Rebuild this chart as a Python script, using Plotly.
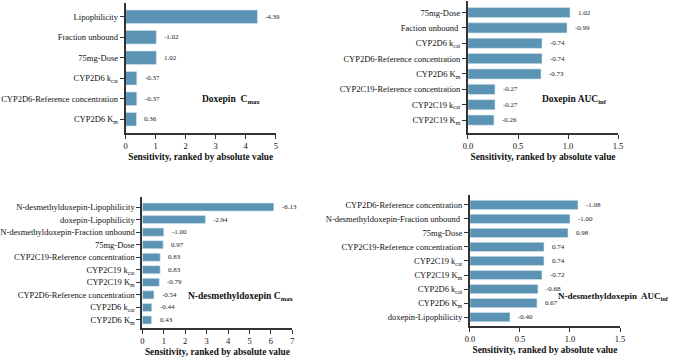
import plotly.graph_objects as go

# ---------------- data ----------------
p1_labels = ["Lipophilicity", "Fraction unbound", "75mg-Dose", "CYP2D6 k<sub>cat</sub>",
             "CYP2D6-Reference concentration", "CYP2D6 K<sub>m</sub>"]
p1_values = [-4.39, -1.02, 1.02, -0.37, -0.37, 0.36]

p2_labels = ["75mg-Dose", "Faction unbound ", "CYP2D6 k<sub>cat</sub>", "CYP2D6-Reference concentration",
             "CYP2D6 K<sub>m</sub>", "CYP2C19-Reference concentration", "CYP2C19 k<sub>cat</sub>",
             "CYP2C19 K<sub>m</sub>"]
p2_values = [1.02, -0.99, -0.74, -0.74, -0.73, -0.27, -0.27, -0.26]

p3_labels = ["N-desmethyldoxepin-Lipophilicity", "doxepin-Lipophilicity",
             "N-desmethyldoxepin-Fraction unbound", "75mg-Dose", "CYP2C19-Reference concentration",
             "CYP2C19 k<sub>cat</sub>", "CYP2C19 K<sub>m</sub>", "CYP2D6-Reference concentration",
             "CYP2D6 k<sub>cat</sub>", "CYP2D6 K<sub>m</sub>"]
p3_values = [-6.13, -2.94, -1.00, 0.97, 0.83, 0.83, -0.79, -0.54, -0.44, 0.43]

p4_labels = ["CYP2D6-Reference concentration", "N-desmethyldoxepin-Fraction unbound ", "75mg-Dose",
             "CYP2C19-Reference concentration", "CYP2C19 k<sub>cat</sub>", "CYP2C19 K<sub>m</sub>",
             "CYP2D6 k<sub>cat</sub>", "CYP2D6 K<sub>m</sub>", "doxepin-Lipophilicity"]
p4_values = [-1.08, -1.00, 0.98, 0.74, 0.74, -0.72, -0.68, 0.67, -0.40]

titles = ["<b>Doxepin  C<sub>max</sub></b>", "<b>Doxepin AUC<sub>inf</sub></b>",
          "<b>N-desmethyldoxepin C<sub>max</sub></b>", "<b>N-desmethyldoxepin  AUC<sub>inf</sub></b>"]
x_ticks = [[0, 1, 2, 3, 4, 5], [0.0, 0.5, 1.0, 1.5], [0, 1, 2, 3, 4, 5, 6, 7], [0.0, 0.5, 1.0, 1.5]]
x_ticktext = [["0", "1", "2", "3", "4", "5"], ["0.0", "0.5", "1.0", "1.5"],
              ["0", "1", "2", "3", "4", "5", "6", "7"], ["0.0", "0.5", "1.0", "1.5"]]
axis_title = "<b>Sensitivity, ranked by absolute value</b>"

# ---------------- layout ----------------
W, H = 676, 359
FONT = "Liberation Serif"
BAR = "#5a93b3"
AX = "#333333"

panels = [
    dict(labels=p1_labels, values=p1_values, xd=(120, 273), yd=(3, 133), yr=(5.67, -0.67),
         xmax=5, width=0.66, title_xy=(227, 99), tanchor="center", tsize=9.5),
    dict(labels=p2_labels, values=p2_values, xd=(469, 622), yd=(1, 133), yr=(7.84, -0.75),
         xmax=1.5, width=0.66, title_xy=(578, 99), tanchor="center", tsize=9.5),
    dict(labels=p3_labels, values=p3_values, xd=(137, 290), yd=(197, 328), yr=(9.64, -0.8),
         xmax=7, width=0.64, title_xy=(237, 296), tanchor="center", tsize=9.5),
    dict(labels=p4_labels, values=p4_values, xd=(471, 624), yd=(195, 326), yr=(8.64, -0.71),
         xmax=1.5, width=0.66, title_xy=(676, 296), tanchor="right", tsize=9.0),
]

fig = go.Figure()
annotations = []
for i, p in enumerate(panels):
    n = "" if i == 0 else str(i + 1)
    xa, ya = "x" + n, "y" + n
    absvals = [abs(v) for v in p["values"]]
    fig.add_trace(go.Bar(
        x=absvals, y=p["labels"], orientation="h", xaxis=xa, yaxis=ya,
        marker=dict(color=BAR, line=dict(color="#d6e6ef", width=0.6)),
        width=p["width"], showlegend=False, hoverinfo="skip"))
    for lab, a, v in zip(p["labels"], absvals, p["values"]):
        annotations.append(dict(
            x=a, y=lab, xref=xa, yref=ya, text=f"{v:.2f}", showarrow=False,
            xanchor="left", xshift=6, font=dict(family=FONT, size=7, color="#222")))
    annotations.append(dict(
        x=p["title_xy"][0] / W, y=1 - p["title_xy"][1] / H, xref="paper", yref="paper",
        text=titles[i], showarrow=False, xanchor=p["tanchor"], yanchor="middle",
        font=dict(family=FONT, size=p["tsize"], color="#111")))
    xkey = "xaxis" + n
    ykey = "yaxis" + n
    fig.layout[xkey] = dict(
        domain=[p["xd"][0] / W, p["xd"][1] / W], range=[0, p["xmax"]], anchor=ya,
        tickvals=x_ticks[i], ticktext=x_ticktext[i], ticks="outside", ticklen=4,
        tickwidth=1.3, tickcolor=AX, showline=True, linecolor=AX, linewidth=2,
        showgrid=False, zeroline=False, tickfont=dict(family=FONT, size=8.5, color="#111"),
        title=dict(text=axis_title, font=dict(family=FONT, size=9.3, color="#111"), standoff=3))
    fig.layout[ykey] = dict(
        domain=[1 - p["yd"][1] / H, 1 - p["yd"][0] / H], anchor=xa, type="category",
        categoryorder="array", categoryarray=p["labels"], range=list(p["yr"]),
        ticks="outside", ticklen=4, tickwidth=1.3, tickcolor=AX, showline=True,
        linecolor=AX, linewidth=2, showgrid=False, zeroline=False,
        tickfont=dict(family=FONT, size=8.5, color="#111"))

fig.update_layout(
    width=W, height=H, margin=dict(l=0, r=0, t=0, b=0),
    paper_bgcolor="white", plot_bgcolor="white", annotations=annotations,
    font=dict(family=FONT), bargap=0.3)

fig.write_html("out.html")
